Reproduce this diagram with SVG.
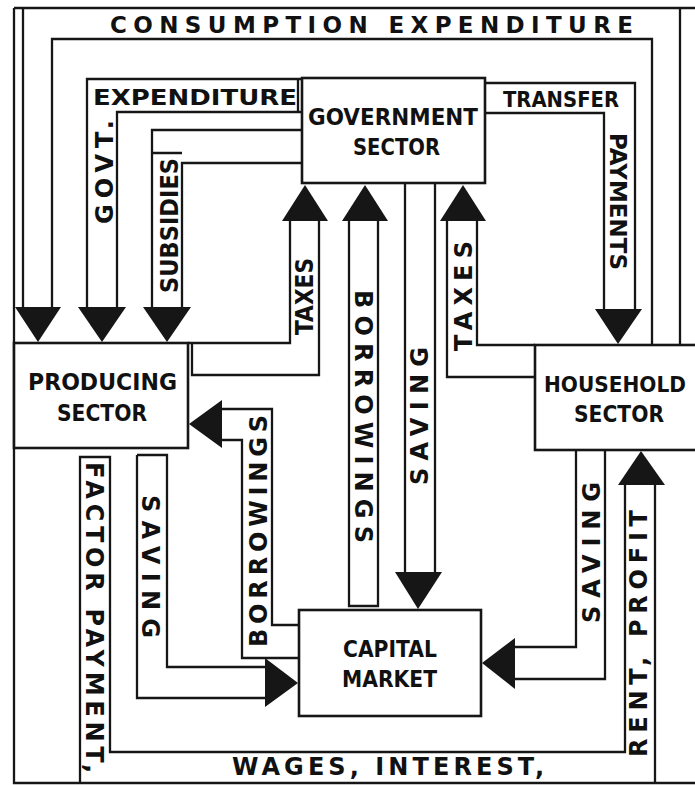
<svg xmlns="http://www.w3.org/2000/svg" width="695" height="785" viewBox="0 0 695 785">
<style>
.ln{fill:none;stroke:#161616;stroke-width:2.3;stroke-linejoin:miter}
.bx{fill:#fff;stroke:#161616;stroke-width:2.6}
.ah{fill:#161616}
.t{font-family:"DejaVu Sans","Liberation Sans",Arial,sans-serif;font-weight:bold;fill:#111}
</style>
<rect x="0" y="0" width="695" height="785" fill="#fff"/>
<g id="connectors">
  <!-- frame / outer band lines -->
  <path class="ln" d="M14,8 H695 M14,8 V783 H695 M680,8 V345"/>
  <!-- consumption expenditure -->
  <path class="ln" d="M23,8 V307 M52,307 V39 H652 V345"/>
  <polygon class="ah" points="15,307 61,307 38,342"/>
  <!-- govt expenditure -->
  <path class="ln" d="M87,307 V79 H302 M117,307 V112 H302 M298,79 V112"/>
  <polygon class="ah" points="78,307 126,307 102,342"/>
  <!-- subsidies -->
  <path class="ln" d="M152,307 V130 H302 M182,307 V163 H302 M152,153 H182"/>
  <polygon class="ah" points="143,307 191,307 167,342"/>
  <!-- transfer payments -->
  <path class="ln" d="M485,83 H635 V309 M485,113 H604 V309"/>
  <polygon class="ah" points="595,309 642,309 618,344"/>
  <!-- taxes from producing -->
  <path class="ln" d="M290,221 V343 H188 M319,221 V375 H192 V343"/>
  <polygon class="ah" points="282,221 328,221 305,185"/>
  <!-- borrowings by government -->
  <path class="ln" d="M349,221 V606 H378 V221"/>
  <polygon class="ah" points="342,221 388,221 365,185"/>
  <!-- government saving -->
  <path class="ln" d="M405,183 V572 M435,183 V572"/>
  <polygon class="ah" points="395,572 442,572 418,609"/>
  <!-- taxes from household -->
  <path class="ln" d="M477,221 V345 H535 M447,221 V377 H535"/>
  <polygon class="ah" points="440,221 486,221 463,185"/>
  <!-- household saving -->
  <path class="ln" d="M576,450 V647 H515 M605,450 V679 H515"/>
  <polygon class="ah" points="515,638 515,689 482,663"/>
  <!-- factor payment: wages, interest, rent, profit -->
  <path class="ln" d="M625,485 V752 H110 V457 H80 V783 M655,485 V783"/>
  <polygon class="ah" points="618,485 665,485 641,451"/>
  <!-- producing saving -->
  <path class="ln" d="M137,455 H167 V667 H265 M137,455 V698 H265"/>
  <polygon class="ah" points="265,658 265,707 298,683"/>
  <!-- producing borrowings -->
  <path class="ln" d="M222,440 H242 V658 H299 M222,409 H272 V625 H299"/>
  <polygon class="ah" points="222,400 222,448 189,424"/>

  <!-- labels -->
  <text class="t" x="110" y="33" font-size="23" textLength="523" lengthAdjust="spacing">CONSUMPTION EXPENDITURE</text>
  <text class="t" x="93" y="105" font-size="21" textLength="204" lengthAdjust="spacingAndGlyphs">EXPENDITURE</text>
  <text class="t" x="503" y="107" font-size="21" textLength="116" lengthAdjust="spacingAndGlyphs">TRANSFER</text>
  <text class="t" x="232" y="775" font-size="24" textLength="312" lengthAdjust="spacing">WAGES, INTEREST,</text>

  <text class="t" transform="translate(113,224) rotate(-90)" font-size="24" textLength="104" lengthAdjust="spacing">GOVT.</text>
  <text class="t" transform="translate(178,293) rotate(-90)" font-size="24" textLength="135" lengthAdjust="spacingAndGlyphs">SUBSIDIES</text>
  <text class="t" transform="translate(313,335) rotate(-90)" font-size="24" textLength="77" lengthAdjust="spacingAndGlyphs">TAXES</text>
  <text class="t" transform="translate(428,485) rotate(-90)" font-size="24" textLength="138" lengthAdjust="spacing">SAVING</text>
  <text class="t" transform="translate(472,351) rotate(-90)" font-size="24" textLength="110" lengthAdjust="spacing">TAXES</text>
  <text class="t" transform="translate(600,623) rotate(-90)" font-size="24" textLength="141" lengthAdjust="spacing">SAVING</text>
  <text class="t" transform="translate(647,757) rotate(-90)" font-size="24" textLength="247" lengthAdjust="spacing">RENT, PROFIT</text>
  <text class="t" transform="translate(267,647) rotate(-90)" font-size="24" textLength="232" lengthAdjust="spacing">BORROWINGS</text>

  <text class="t" transform="translate(610,133) rotate(90)" font-size="23" textLength="137" lengthAdjust="spacingAndGlyphs">PAYMENTS</text>
  <text class="t" transform="translate(355,290) rotate(90)" font-size="24" textLength="253" lengthAdjust="spacing">BORROWINGS</text>
  <text class="t" transform="translate(142,495) rotate(90)" font-size="24" textLength="143" lengthAdjust="spacing">SAVING</text>
  <text class="t" transform="translate(86,462) rotate(90)" font-size="24" textLength="311" lengthAdjust="spacing">FACTOR PAYMENT,</text>
</g>
<g id="government">
  <rect class="bx" x="302" y="78" width="183" height="105"/>
  <text class="t" x="308" y="125" font-size="23" textLength="170" lengthAdjust="spacingAndGlyphs">GOVERNMENT</text>
  <text class="t" x="353" y="155" font-size="23" textLength="87" lengthAdjust="spacingAndGlyphs">SECTOR</text>
</g>
<g id="producing">
  <rect class="bx" x="14" y="343" width="174" height="105"/>
  <text class="t" x="28" y="390" font-size="23" textLength="149" lengthAdjust="spacingAndGlyphs">PRODUCING</text>
  <text class="t" x="57" y="421" font-size="23" textLength="90" lengthAdjust="spacingAndGlyphs">SECTOR</text>
</g>
<g id="household">
  <rect class="bx" x="535" y="345" width="162" height="105"/>
  <text class="t" x="544" y="392" font-size="21" textLength="142" lengthAdjust="spacingAndGlyphs">HOUSEHOLD</text>
  <text class="t" x="574" y="422" font-size="23" textLength="90" lengthAdjust="spacingAndGlyphs">SECTOR</text>
</g>
<g id="capital">
  <rect class="bx" x="299" y="610" width="182" height="106"/>
  <text class="t" x="343" y="657" font-size="23" textLength="94" lengthAdjust="spacingAndGlyphs">CAPITAL</text>
  <text class="t" x="342" y="687" font-size="23" textLength="95" lengthAdjust="spacingAndGlyphs">MARKET</text>
</g>
</svg>
